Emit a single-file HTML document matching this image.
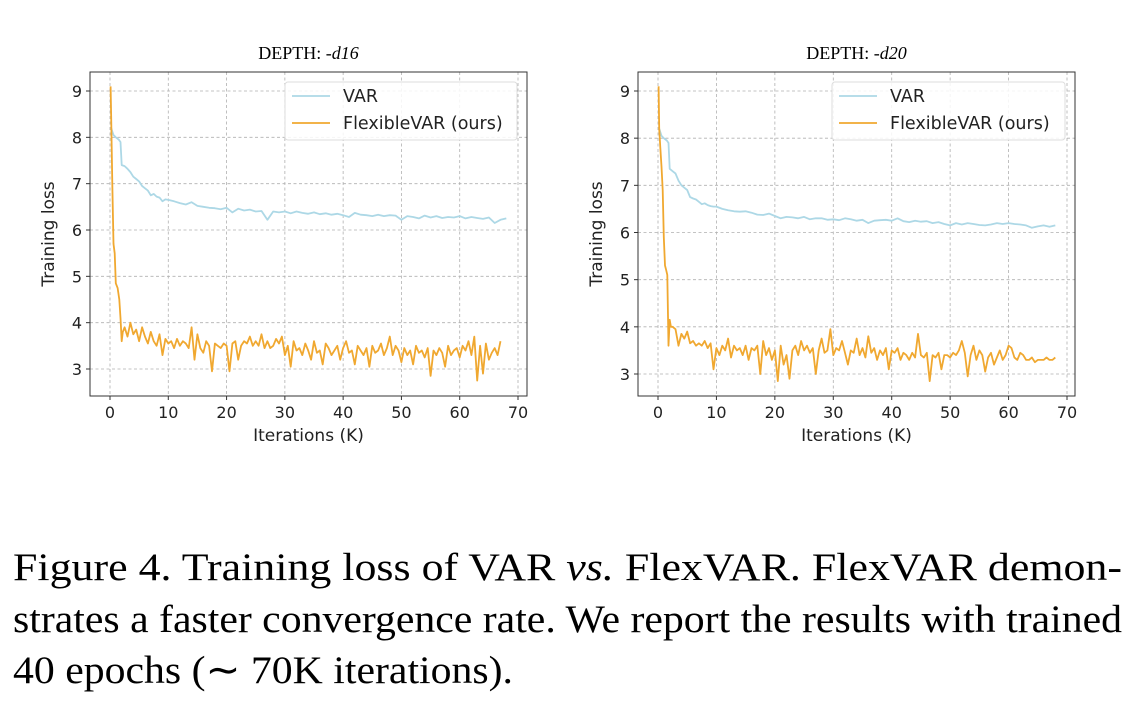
<!DOCTYPE html>
<html><head><meta charset="utf-8">
<style>
html,body{margin:0;padding:0;background:#fff;}
svg{display:block;}
.tick{font-family:"DejaVu Sans","Liberation Sans",sans-serif;font-size:16px;fill:#222;}
.lab{font-family:"DejaVu Sans","Liberation Sans",sans-serif;font-size:17px;fill:#222;}
.leg{font-family:"DejaVu Sans","Liberation Sans",sans-serif;font-size:17.5px;fill:#222;}
.ttl{font-family:"Liberation Serif",serif;font-size:18px;fill:#000;}
.cap{font-family:"Liberation Serif",serif;font-size:39px;fill:#000;}
</style></head>
<body>
<svg id="fig" width="1138" height="720" viewBox="0 0 1138 720" xmlns="http://www.w3.org/2000/svg">
<text class="cap" x="13" y="580" textLength="1109" lengthAdjust="spacingAndGlyphs">Figure 4.  Training loss of VAR <tspan font-style="italic">vs.</tspan>  FlexVAR. FlexVAR demon-</text>
<text class="cap" x="13" y="632" textLength="1109" lengthAdjust="spacingAndGlyphs">strates a faster convergence rate. We report the results with trained</text>
<text class="cap" x="13" y="683" textLength="500" lengthAdjust="spacingAndGlyphs">40 epochs (∼ 70K iterations).</text>
</svg>
<script>
const xTicks=[0,10,20,30,40,50,60,70];
const yTicks=[3,4,5,6,7,8,9];
const seriesNames=["VAR","FlexibleVAR (ours)"];
const varX_L=[0.2,0.6,1,1.5,1.8,2,2.5,3,3.5,4,4.5,5,5.5,6,6.5,7,7.5,8,8.5,9,9.5,10,11,12,13,14,15,16,17,18,19,20,21,22,23,24,25,26,27,28,29,30,31,32,33,34,35,36,37,38,39,40,41,42,43,44,45,46,47,48,49,50,51,52,53,54,55,56,57,58,59,60,61,62,63,64,65,66,67,68];
const varY_L=[8.2,8.05,8.0,7.95,7.9,7.4,7.38,7.32,7.25,7.15,7.1,7.05,6.95,6.9,6.85,6.75,6.78,6.72,6.7,6.62,6.66,6.65,6.62,6.58,6.55,6.6,6.52,6.5,6.48,6.47,6.45,6.48,6.38,6.46,6.42,6.44,6.4,6.41,6.22,6.4,6.38,6.4,6.36,6.4,6.37,6.35,6.38,6.34,6.36,6.33,6.35,6.32,6.28,6.37,6.33,6.32,6.3,6.33,6.3,6.32,6.31,6.22,6.3,6.28,6.25,6.31,6.27,6.3,6.26,6.28,6.27,6.3,6.25,6.28,6.26,6.24,6.27,6.15,6.22,6.25];
const flexX_L=[0.1,0.2,0.4,0.6,0.8,1.0,1.3,1.6,1.8,2.0,2.2];
const flexY_L0=[9.1,8.4,7.0,5.7,5.5,4.85,4.75,4.5,4.1,3.6,3.8];
const flexY_L=[3.9,3.7,4.0,3.75,3.85,3.6,3.9,3.7,3.55,3.8,3.6,3.5,3.75,3.3,3.65,3.55,3.6,3.45,3.65,3.5,3.6,3.55,3.45,3.9,3.2,3.75,3.45,3.35,3.6,3.5,2.95,3.55,3.5,3.45,3.55,3.5,2.95,3.55,3.6,3.2,3.5,3.6,3.55,3.7,3.5,3.6,3.5,3.75,3.45,3.6,3.45,3.5,3.65,3.55,3.7,3.3,3.5,3.05,3.6,3.4,3.45,3.3,3.55,3.4,3.2,3.6,3.35,3.4,3.1,3.55,3.45,3.3,3.4,3.5,3.2,3.45,3.6,3.35,3.4,3.1,3.5,3.4,3.3,3.45,3.05,3.5,3.35,3.4,3.55,3.3,3.45,3.7,3.3,3.5,3.4,3.15,3.45,3.3,3.4,3.1,3.5,3.35,3.4,3.25,3.45,2.85,3.4,3.3,3.45,3.35,3.05,3.5,3.3,3.4,3.45,3.25,3.5,3.4,3.6,3.3,3.7,2.75,3.5,2.9,3.55,3.2,3.35,3.45,3.3,3.6];
const varX_R=[0.2,0.6,1,1.5,1.8,2,2.5,3,3.5,4,4.5,5,5.5,6,6.5,7,7.5,8,8.5,9,9.5,10,11,12,13,14,15,16,17,18,19,20,21,22,23,24,25,26,27,28,29,30,31,32,33,34,35,36,37,38,39,40,41,42,43,44,45,46,47,48,49,50,51,52,53,54,55,56,57,58,59,60,61,62,63,64,65,66,67,68];
const varY_R=[8.2,8.05,8.0,7.95,7.9,7.35,7.3,7.25,7.1,7.0,6.95,6.9,6.75,6.72,6.7,6.65,6.6,6.62,6.58,6.56,6.55,6.55,6.5,6.47,6.45,6.44,6.45,6.42,6.38,6.37,6.4,6.35,6.3,6.33,6.32,6.3,6.33,6.28,6.3,6.3,6.27,6.28,6.26,6.3,6.28,6.25,6.27,6.2,6.25,6.26,6.27,6.25,6.3,6.24,6.22,6.25,6.23,6.24,6.2,6.22,6.18,6.15,6.2,6.17,6.2,6.18,6.16,6.15,6.17,6.2,6.18,6.2,6.18,6.17,6.15,6.1,6.13,6.15,6.12,6.15];
const flexX_R=[0.1,0.2,0.4,0.6,0.8,1.0,1.2,1.4,1.6,1.8,2.0,2.2];
const flexY_R0=[9.1,8.2,7.8,7.4,6.9,5.9,5.3,5.2,5.1,3.6,4.15,4.0];
const flexY_R=[4.0,3.95,3.6,3.85,3.75,3.9,3.65,3.7,3.6,3.65,3.6,3.7,3.55,3.65,3.1,3.55,3.4,3.6,3.5,3.75,3.35,3.6,3.5,3.55,3.4,3.6,3.3,3.55,3.5,3.6,3.0,3.7,3.4,3.55,3.3,3.5,2.85,3.6,3.2,3.4,2.9,3.5,3.6,3.4,3.7,3.5,3.6,3.45,3.55,3.0,3.5,3.75,3.45,3.5,3.95,3.4,3.55,3.5,3.7,3.45,3.2,3.5,3.45,3.75,3.4,3.55,3.35,3.8,3.45,3.55,3.3,3.5,3.4,3.55,3.1,3.5,3.45,3.55,3.3,3.45,3.4,3.3,3.45,3.35,3.85,3.4,3.35,3.45,2.85,3.4,3.35,3.45,3.1,3.4,3.4,3.35,3.45,3.4,3.5,3.7,3.45,2.95,3.4,3.6,3.3,3.5,3.4,3.05,3.35,3.45,3.2,3.35,3.5,3.3,3.4,3.6,3.55,3.35,3.3,3.45,3.4,3.3,3.3,3.35,3.25,3.3,3.3,3.3,3.35,3.3,3.3,3.35];

const NS="http://www.w3.org/2000/svg";
const svg=document.getElementById('fig');
function mk(tag,attrs,parent){const e=document.createElementNS(NS,tag);for(const k in attrs)e.setAttribute(k,attrs[k]);(parent||svg).appendChild(e);return e;}

function drawChart(cfg){
  const g=mk('g',{});
  
  
  const {L,R,T,B,x0,x70,y9,y3}=cfg;
  const sx=v=>x0+(x70-x0)*v/70;
  const sy=v=>y3+(y9-y3)*(v-3)/6;
  xTicks.forEach(t=>{const l=mk('line',{x1:sx(t),x2:sx(t),y1:T,y2:B,stroke:'#b0b0b0','stroke-width':0.8,'stroke-dasharray':'3,2.5'},g);
    
    });
  yTicks.forEach(t=>{const l=mk('line',{x1:L,x2:R,y1:sy(t),y2:sy(t),stroke:'#b0b0b0','stroke-width':0.8,'stroke-dasharray':'3,2.5'},g);
    
    });
  const pts=(xs,ys)=>xs.map((x,i)=>sx(x).toFixed(1)+','+sy(ys[i]).toFixed(1)).join(' ');
  const v=mk('polyline',{points:pts(cfg.varX,cfg.varY),fill:'none',stroke:'#add8e6','stroke-width':1.8,'stroke-linejoin':'round'},g);
  
  
  const fx=cfg.flexX0.slice(), fy=cfg.flexY0.slice();
  cfg.flexY.forEach((y,i)=>{fx.push(2.5+0.5*i);fy.push(y);});
  const f=mk('polyline',{points:pts(fx,fy),fill:'none',stroke:'#f0a830','stroke-width':1.8,'stroke-linejoin':'round'},g);
  
  
  const fr=mk('rect',{x:L,y:T,width:R-L,height:B-T,fill:'none',stroke:'#333','stroke-width':1},g);
  
  
  xTicks.forEach(t=>{mk('line',{x1:sx(t),x2:sx(t),y1:B,y2:B+4,stroke:'#333'},g);
    const tx=mk('text',{x:sx(t),y:B+22,'text-anchor':'middle',class:'tick'},g);tx.textContent=t;
    
    });
  yTicks.forEach(t=>{mk('line',{x1:L-4,x2:L,y1:sy(t),y2:sy(t),stroke:'#333'},g);
    const tx=mk('text',{x:L-8,y:sy(t)+6,'text-anchor':'end',class:'tick'},g);tx.textContent=t;
    
    });
  const xl=mk('text',{x:(L+R)/2,y:B+45,'text-anchor':'middle',class:'lab'},g);xl.textContent='Iterations (K)';
  
  
  const yl=mk('text',{x:0,y:0,'text-anchor':'middle',class:'lab',transform:`translate(${L-36},${(T+B)/2}) rotate(-90)`},g);yl.textContent='Training loss';
  
  
  const tt=mk('text',{x:(L+R)/2,y:T-13,'text-anchor':'middle',class:'ttl'},g);
  tt.innerHTML='DEPTH: <tspan font-style="italic">'+cfg.depth+'</tspan>';
  
  
  const lg=mk('g',{},g);
  
  
  const lx=cfg.legX;
  mk('rect',{x:lx,y:T+10,width:R-10-lx,height:58,rx:3,fill:'#fff','fill-opacity':0.85,stroke:'#ddd'},lg);
  const cols=['#add8e6','#f0a830'];
  seriesNames.forEach((n,i)=>{const yy=T+24+i*27;
    mk('line',{x1:lx+7,x2:lx+45,y1:yy,y2:yy,stroke:cols[i],'stroke-width':1.8},lg);
    const t=mk('text',{x:lx+58,y:yy+6,class:'leg'},lg);t.textContent=n;
    
    });
}
drawChart({name:'chart-d16',depth:'-d16',L:90,R:527,T:72,B:396,x0:110,x70:518,y9:91,y3:369,legX:285,
  varX:varX_L,varY:varY_L,flexX0:flexX_L,flexY0:flexY_L0,flexY:flexY_L});
drawChart({name:'chart-d20',depth:'-d20',L:638,R:1075,T:72,B:396,x0:658,x70:1067,y9:91,y3:374,legX:832,
  varX:varX_R,varY:varY_R,flexX0:flexX_R,flexY0:flexY_R0,flexY:flexY_R});
</script>
</body></html>
